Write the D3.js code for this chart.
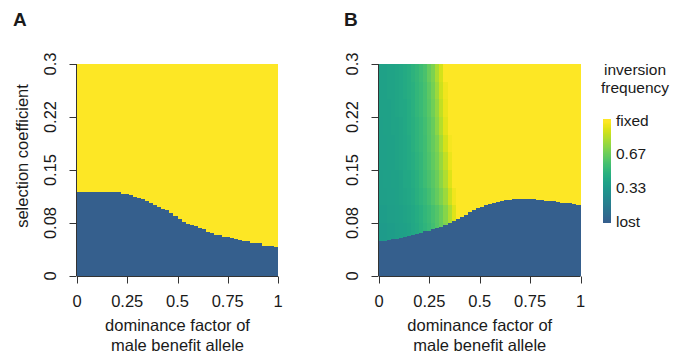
<!DOCTYPE html>
<html><head><meta charset="utf-8">
<script src="https://cdn.jsdelivr.net/npm/d3@7"></script>
<style>body{margin:0;background:#fff}svg{display:block}text{font-family:"Liberation Sans",Arial,Helvetica,sans-serif;fill:#1a1a1a}</style>
</head><body><svg id="c" width="683" height="358"></svg>
<script>
// ---- data ----
const hStep = 0.02; // column width of the grid (dominance factor)
// Panel A: selection coefficient below which the inversion is lost, per column (h = 0..1)
const thresholdA = [0.119,0.119,0.119,0.119,0.119,0.119,0.119,0.119,0.119,0.119,0.119,0.116,0.116,0.114,0.112,0.110,0.109,0.106,0.103,0.100,
  0.0977,0.0948,0.093,0.089,0.085,0.081,0.077,0.0736,0.072,0.0708,0.068,0.066,0.062,0.061,0.058,0.058,0.055,0.055,0.054,0.052,
  0.051,0.0495,0.0495,0.0467,0.0467,0.046,0.0425,0.0425,0.0425,0.041];
// Panel B: lost threshold per column
const thresholdB = [0.049,0.050,0.051,0.052,0.053,0.054,0.055,0.057,0.058,0.0595,0.061,0.063,0.064,0.066,0.068,0.070,0.072,0.075,0.078,0.080,
  0.083,0.086,0.090,0.093,0.096,0.098,0.100,0.102,0.104,0.105,0.106,0.107,0.108,0.1087,0.1087,0.1087,0.1087,0.1087,0.1087,0.108,
  0.107,0.106,0.106,0.106,0.105,0.104,0.1035,0.1035,0.102,0.101];
// Panel B: inversion frequency above the lost threshold; rows = s bands (top edge), columns h = 0..0.44
const bandTopsB = [0.3,0.275,0.25,0.225,0.2,0.175,0.15,0.125,0.1,0.075,0.05,0.025];
const bandHeight = 0.025;
const freqB = [
  [0.39,0.39,0.40,0.40,0.41,0.42,0.44,0.46,0.49,0.52,0.55,0.59,0.66,0.72,0.82,0.91,1,1,1,1,1,1],
  [0.39,0.39,0.40,0.40,0.41,0.42,0.44,0.46,0.48,0.51,0.54,0.58,0.64,0.70,0.79,0.89,0.97,1,1,1,1,1],
  [0.39,0.39,0.39,0.40,0.41,0.42,0.43,0.45,0.48,0.51,0.54,0.58,0.63,0.69,0.77,0.87,0.96,1,1,1,1,1],
  [0.38,0.39,0.39,0.40,0.40,0.41,0.43,0.45,0.47,0.50,0.53,0.57,0.62,0.67,0.75,0.84,0.94,1,1,1,1,1],
  [0.38,0.38,0.39,0.39,0.40,0.41,0.42,0.44,0.47,0.50,0.53,0.56,0.61,0.66,0.72,0.81,0.91,0.98,1,1,1,1],
  [0.38,0.38,0.39,0.39,0.40,0.41,0.42,0.44,0.46,0.49,0.52,0.56,0.60,0.65,0.70,0.78,0.87,0.96,1,1,1,1],
  [0.37,0.38,0.38,0.39,0.39,0.40,0.42,0.43,0.45,0.48,0.51,0.55,0.59,0.63,0.68,0.75,0.83,0.93,1,1,1,1],
  [0.37,0.37,0.38,0.38,0.39,0.40,0.41,0.42,0.44,0.47,0.50,0.53,0.57,0.61,0.66,0.72,0.79,0.89,0.97,1,1,1],
  [0.36,0.36,0.37,0.37,0.38,0.39,0.40,0.41,0.43,0.45,0.48,0.51,0.54,0.58,0.62,0.67,0.74,0.83,0.93,1,1,1],
  [0.35,0.35,0.36,0.36,0.37,0.38,0.39,0.40,0.42,0.44,0.47,0.50,0.53,0.57,0.61,0.66,0.72,0.80,0.90,0.98,1,1],
  [0.35,0.35,0.36,0.36,0.37,0.38,0.39,0.40,0.42,0.44,0.47,0.50,0.53,0.57,0.61,0.66,0.72,0.80,0.90,0.98,1,1],
  [0.35,0.35,0.36,0.36,0.37,0.38,0.39,0.40,0.42,0.44,0.47,0.50,0.53,0.57,0.61,0.66,0.72,0.80,0.90,0.98,1,1]
];
const xTicks = [0,0.25,0.5,0.75,1];
const xTickLabels = ["0","0.25","0.5","0.75","1"];
const yTicks = [0,0.075,0.15,0.225,0.3];
const yTickLabels = ["0","0.08","0.15","0.22","0.3"];
const legendValues = [0,0.33,0.67,1];
const legendLabels = ["lost","0.33","0.67","fixed"];
const panelLabels = ["A","B"];
const xLabelLines = ["dominance factor of","male benefit allele"];
const yLabel = "selection coefficient";
const legendTitle = ["inversion","frequency"];

// ---- drawing ----
const svg = d3.select("#c");
const color = d3.scaleSequential(t => d3.interpolateViridis(0.3 + 0.7*t)).domain([0,1]);
const y = d3.scaleLinear().domain([0,0.3]).range([276,64]);
const R = Math.round;
const panels = [
  {x: d3.scaleLinear().domain([0,1]).range([77,278]), th: thresholdA, freq: null, label: panelLabels[0], lx: 13},
  {x: d3.scaleLinear().domain([0,1]).range([379,580.5]), th: thresholdB, freq: freqB, label: panelLabels[1], lx: 344}
];
const cols = d3.range(thresholdA.length);

function cell(g, x0, x1, y0, y1, fill) {
  const a = R(x0), b = R(x1), c = R(Math.min(y0, y1)), d = R(Math.max(y0, y1));
  if (b <= a || d <= c) return;
  g.append("rect").attr("x", a).attr("width", b - a).attr("y", c).attr("height", d - c)
    .attr("fill", fill).attr("shape-rendering", "crispEdges");
}

panels.forEach((p, pi) => {
  const g = svg.append("g");
  const x = p.x;
  cols.forEach(i => {
    const x0 = x(i*hStep), x1 = x((i+1)*hStep);
    if (p.freq) {
      bandTopsB.forEach((top, r) => {
        const f = i < p.freq[r].length ? p.freq[r][i] : 1;
        cell(g, x0, x1, y(top), y(top - bandHeight), color(f));
      });
    } else {
      cell(g, x0, x1, y(0.3), y(p.th[i]), color(1));
    }
    cell(g, x0, x1, y(p.th[i]), y(0), color(0));
  });
  // x axis
  const xa = g.append("g").attr("transform", "translate(0,276.5)");
  xa.append("line").attr("x1", x(0)).attr("x2", x(1)).attr("stroke", "#333").attr("stroke-width", 1);
  xTicks.forEach((t, k) => {
    xa.append("line").attr("x1", R(x(t)) + 0.5).attr("x2", R(x(t)) + 0.5).attr("y1", 0).attr("y2", 7).attr("stroke", "#333");
    xa.append("text").attr("x", x(t)).attr("y", 30).attr("text-anchor", "middle")
      .style("font-size", "16.5px").text(xTickLabels[k]);
  });
  // y axis
  const ya = g.append("g").attr("transform", `translate(${R(x(0)) - 0.5},0)`);
  ya.append("line").attr("y1", y(0)).attr("y2", y(0.3)).attr("stroke", "#333");
  yTicks.forEach((t, k) => {
    ya.append("line").attr("x1", 0).attr("x2", -7).attr("y1", R(y(t)) + 0.5).attr("y2", R(y(t)) + 0.5).attr("stroke", "#333");
    ya.append("text").attr("transform", `translate(-21,${y(t)}) rotate(-90)`).attr("text-anchor", "middle")
      .style("font-size", "16.5px").text(yTickLabels[k]);
  });
  // x label
  xLabelLines.forEach((l, k) => {
    g.append("text").attr("x", (x(0) + x(1))/2).attr("y", 331 + k*20).attr("text-anchor", "middle")
      .style("font-size", "16.5px").text(l);
  });
  // panel label
  g.append("text").attr("x", p.lx).attr("y", 26).style("font-size", "19px").style("font-weight", "bold").text(p.label);
  if (pi === 0) {
    g.append("text").attr("transform", `translate(28,156) rotate(-90)`).attr("text-anchor", "middle")
      .style("font-size", "16.5px").text(yLabel);
  }
});

// legend
const lg = svg.append("g");
const ly = d3.scaleLinear().domain([0,1]).range([221,120]);
const barVals = d3.range(0, 1.0001, 0.01);
barVals.forEach(v => {
  cell(lg, 603, 611, ly(v) - 1.5, ly(v) + 1.5, color(v));
});
legendValues.forEach((v, k) => {
  lg.append("text").attr("x", 616).attr("y", ly(v)).attr("dy", "0.36em")
    .style("font-size", "15.5px").text(legendLabels[k]);
});
legendTitle.forEach((t, k) => {
  lg.append("text").attr("x", 635).attr("y", 75 + k*18).attr("text-anchor", "middle")
    .style("font-size", "15.5px").text(t);
});
</script></body></html>
